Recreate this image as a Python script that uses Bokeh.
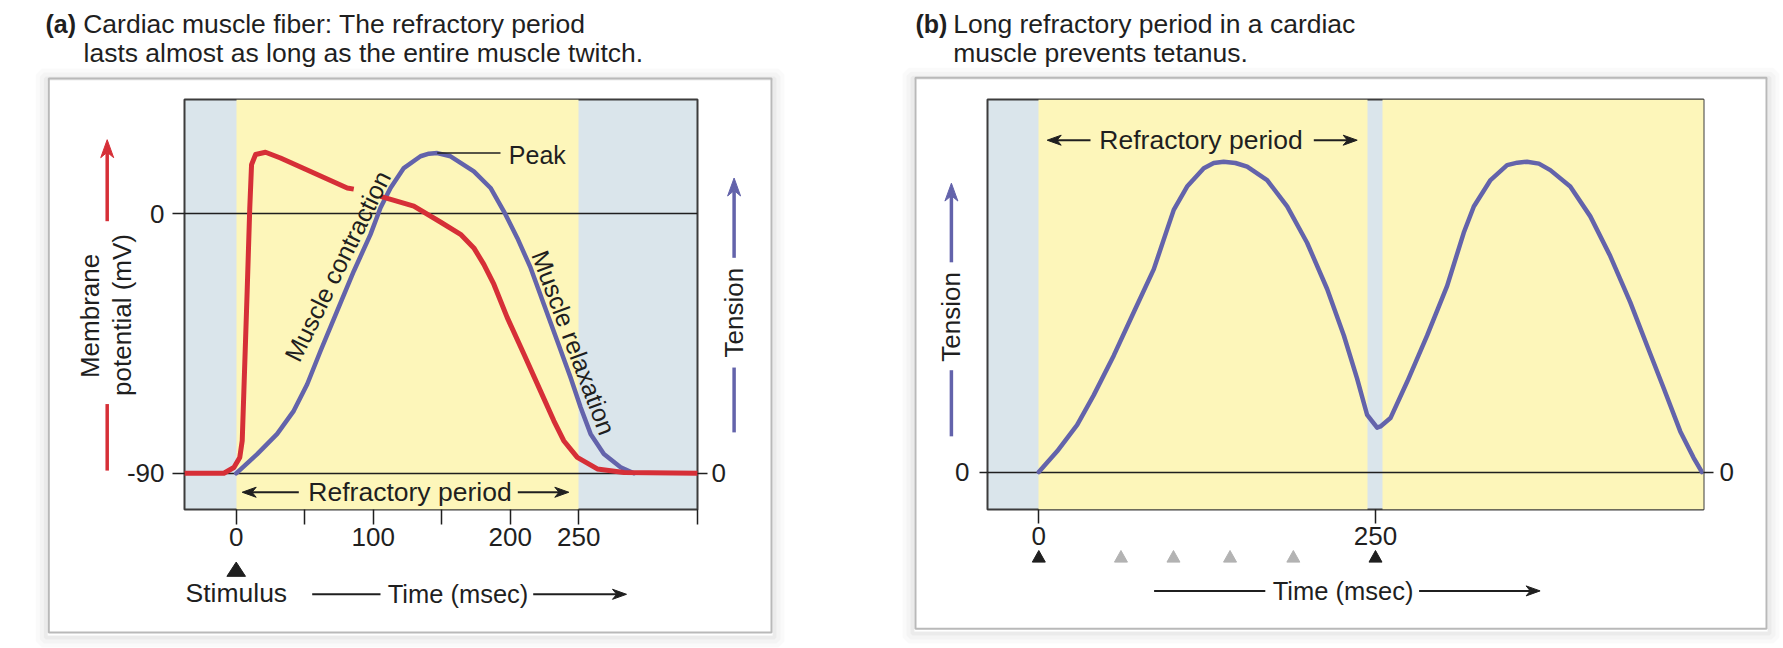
import math
from bokeh.plotting import figure
from bokeh.models import Range1d, LinearAxis, FixedTicker
from bokeh.core.properties import value
from bokeh.layouts import row
from bokeh.embed import file_html
from bokeh.resources import INLINE

GAP = float("nan")   # break in the trace where the "Muscle contraction" label crosses it

# ---------------- data ----------------
# (a) cardiac contractile fibre: action potential (mV) and twitch tension
ap_time_ms = [-38, -9, -1.7, 2.6, 4.4, 5.6, 8.0, 9.9, 11.2, 14.1, 21.4, 32.3, 56.7, 81.0, 85.8,
              GAP, 105.3, 129.6, 149.0, 163.7, 173.4, 180.7, 188.0, 197.8, 210.0, 222.0, 231.8,
              239.0, 248.9, 263.5, 283.0, 337.0]
ap_mv = [-90, -90, -88.0, -84.5, -78.7, -61.4, -26.8, 2.1, 17.1, 20.6, 21.4, 19.4, 14.2, 9.0, 8.6,
         GAP, 6.1, 2.7, -2.8, -7.1, -11.8, -17.5, -24.4, -36.0, -48.7, -61.4, -71.8, -78.7,
         -84.5, -88.5, -89.7, -90]
twitch_time_ms = [0, 15.3, 29.9, 42.0, 51.8, 61.5, 73.7, 85.8, 98.0, 105.3, 112.6, 122.3, 134.5,
                  140.6, 146.7, 156.4, 173.4, 185.6, 195.3, 205.1, 214.8, 224.5, 234.3, 244.0,
                  251.3, 258.6, 268.3, 280.5, 290.2]
twitch_tension = [0, 0.06, 0.123, 0.195, 0.278, 0.382, 0.507, 0.631, 0.746, 0.829, 0.891, 0.953,
                  0.99, 0.998, 1.0, 0.99, 0.943, 0.891, 0.818, 0.735, 0.642, 0.528, 0.413, 0.299,
                  0.206, 0.123, 0.06, 0.019, 0.0]
a_refractory = [(0, 250)]
a_time_ticks = [0, 100, 200, 250]
a_time_minor_ticks = [50, 150]
a_mv_ticks = [-90, 0]
a_stimuli = [0]
peak_time, peak_tension = 146.7, 1.0

# (b) two stimuli: the second twitch cannot fuse with the first
b_time_ms = [0, 13.6, 28.5, 40.8, 55.7, 70.5, 85.4, 95.3, 100.2, 110.1, 122.5, 129.9, 137.3,
             146.0, 154.7, 169.5, 184.4, 199.2, 214.1, 226.5, 236.3, 243.8, 251.2, 253.7, 261.1,
             273.5, 288.3, 303.2, 315.5, 323.0, 335.4, 347.7, 355.3, 362.5, 371.3, 379.8, 394.6,
             409.5, 424.3, 439.2, 451.6, 464.0, 476.3, 486.2, 492.4]
b_tension = [0, 0.067, 0.152, 0.248, 0.376, 0.515, 0.654, 0.782, 0.845, 0.92, 0.979, 0.996, 1.0,
             0.996, 0.984, 0.941, 0.856, 0.739, 0.59, 0.44, 0.302, 0.184, 0.143, 0.147, 0.174,
             0.291, 0.44, 0.6, 0.771, 0.856, 0.941, 0.989, 0.997, 1.0, 0.994, 0.973, 0.92,
             0.824, 0.696, 0.547, 0.408, 0.27, 0.131, 0.046, 0.0]
b_refractory = [(0, 244), (255, 505)]
b_time_ticks = [0, 250]
b_stimuli = [0, 250]
b_blocked_stimuli = [61, 100, 142, 189]

# ---------------- style ----------------
FONT = "Liberation Sans"
INK = "#1f1f1f"
BLUE_BG = "#dae5eb"
YELLOW = "#fdf6ba"
RED = "#d62f37"
PURPLE = "#6363ab"
GRAY = "#b3b3b3"
BOX = "#b9b9b9"
TS = 26          # general label size (px)
TITLE = 26.5     # panel title size (px)


class Mapper:
    """Converts page pixel positions into the data space of one figure (for layout items)."""

    def __init__(self, frame, xr, yr):
        self.L, self.T, self.R, self.B = frame
        (self.x0, self.x1), (self.y0, self.y1) = xr, yr

    def x(self, X):
        return self.x0 + (X - self.L) * (self.x1 - self.x0) / (self.R - self.L)

    def y(self, Y):
        return self.y1 - (Y - self.T) * (self.y1 - self.y0) / (self.B - self.T)

    def X(self, x):
        return self.L + (x - self.x0) * (self.R - self.L) / (self.x1 - self.x0)


def base_fig(width, height, origin, frame, xr, yr):
    ox, oy = origin
    L, T, R, B = frame
    p = figure(width=width, height=height, x_range=Range1d(*xr), y_range=Range1d(*yr),
               toolbar_location=None, output_backend="svg",
               x_axis_location=None, y_axis_location=None,
               min_border_left=L - ox, min_border_top=T - oy,
               min_border_right=ox + width - R, min_border_bottom=oy + height - B)
    p.grid.visible = False
    p.background_fill_color = BLUE_BG
    p.border_fill_color = "white"
    p.outline_line_color = "#3c3c3c"
    p.outline_line_width = 2
    p.title.visible = False
    return p


def style_axis(ax, tick_out, standoff):
    ax.axis_line_color = None
    ax.major_tick_in = 0
    ax.major_tick_out = tick_out
    ax.major_tick_line_color = INK
    ax.major_tick_line_width = 1.5
    ax.minor_tick_in = 0
    ax.minor_tick_out = tick_out
    ax.minor_tick_line_color = INK
    ax.minor_tick_line_width = 1.5
    ax.major_label_text_font = FONT
    ax.major_label_text_font_size = f"{TS}px"
    ax.major_label_text_color = INK
    ax.major_label_standoff = standoff


def text(p, m, X, Y, s, size=TS, align="left", baseline="middle", angle=0.0, bold=False,
         color=INK):
    p.text(x=[m.x(X)], y=[m.y(Y)], text=[s], angle=angle, text_font=value(FONT),
           text_font_size=value(f"{size}px"), text_align=align, text_baseline=baseline,
           text_color=color, text_font_style="bold" if bold else "normal", level="overlay")


def poly(p, m, pts, color):
    p.patch([m.x(a) for a, b in pts], [m.y(b) for a, b in pts], fill_color=color,
            line_color=color, line_width=1, level="overlay")


def line(p, m, X0, Y0, X1, Y1, color=INK, width=2, head=0):
    ex, ey = X1, Y1
    if head:
        d = math.hypot(X1 - X0, Y1 - Y0)
        ux, uy = (X1 - X0) / d, (Y1 - Y0) / d
        nx, ny = -uy, ux
        w = head * 0.36
        tip = (X1, Y1)
        back_l = (X1 - head * ux + w * nx, Y1 - head * uy + w * ny)
        notch = (X1 - 0.7 * head * ux, Y1 - 0.7 * head * uy)
        back_r = (X1 - head * ux - w * nx, Y1 - head * uy - w * ny)
        poly(p, m, [tip, back_l, notch, back_r], color)
        ex, ey = notch
    p.segment(x0=[m.x(X0)], y0=[m.y(Y0)], x1=[m.x(ex)], y1=[m.y(ey)], line_color=color,
              line_width=width, level="overlay")


def triangle(p, m, t, apex, base, half_px, color):
    X = m.X(t)
    poly(p, m, [(X - half_px, base), (X, apex), (X + half_px, base)], color)


def outer_box(p, m, L, T, R, B):
    # soft drop shadow made of faint strokes just outside the card
    for w, a in [(12, 0.018), (8, 0.025), (4, 0.035)]:
        e = w / 2 + 1
        p.quad(left=[m.x(L - e)], right=[m.x(R + e)], top=[m.y(T - e + 3)],
               bottom=[m.y(B + e + 2)], fill_alpha=0, line_color="black", line_alpha=a,
               line_width=w, level="overlay")
    p.quad(left=[m.x(L)], right=[m.x(R)], top=[m.y(T)], bottom=[m.y(B)], fill_alpha=0,
           line_color=BOX, line_width=2, level="overlay")


# ---------------- panel (a) ----------------
A_ORIGIN = (0, 0)
A_FRAME = (184, 98, 697, 509)
A_XR = (-37.73, 336.62)
A_YR = (-102.57, 39.70)
A_TR = (-0.1131, 1.1673)
ma = Mapper(A_FRAME, A_XR, A_YR)

pa = base_fig(880, 648, A_ORIGIN, A_FRAME, A_XR, A_YR)
pa.extra_y_ranges = {"tension": Range1d(*A_TR)}

pa.vstrip(x0=[r[0] for r in a_refractory], x1=[r[1] for r in a_refractory],
          fill_color=YELLOW, line_color=None)
pa.hspan(y=a_mv_ticks, line_color=INK, line_width=1.5)
pa.line(twitch_time_ms, twitch_tension, y_range_name="tension", line_color=PURPLE,
        line_width=4.5, line_join="round", line_cap="round")
pa.line(ap_time_ms, ap_mv, line_color=RED, line_width=5, line_join="round")
pa.segment(x0=[peak_time], y0=[peak_tension], x1=[ma.x(500)], y1=[peak_tension],
           y_range_name="tension", line_color=INK, line_width=1.5)

xa = LinearAxis(ticker=FixedTicker(ticks=a_time_ticks,
                                   minor_ticks=a_time_minor_ticks + [A_XR[1] - 0.05]))
style_axis(xa, 15, 3)
pa.add_layout(xa, "below")
ya = LinearAxis(ticker=FixedTicker(ticks=a_mv_ticks), major_label_overrides={-90: "-90", 0: "0"})
style_axis(ya, 12, 8)
pa.add_layout(ya, "left")
ta = LinearAxis(y_range_name="tension", ticker=FixedTicker(ticks=[0]))
style_axis(ta, 10, 4)
pa.add_layout(ta, "right")

outer_box(pa, ma, 48.3, 77, 771, 632.3)
text(pa, ma, 45, 22.7, "(a)", size=25, baseline="alphabetic", bold=True)
text(pa, ma, 82.7, 22.7, "Cardiac muscle fiber: The refractory period", size=TITLE,
     baseline="alphabetic")
text(pa, ma, 83, 51.7, "lasts almost as long as the entire muscle twitch.", size=TITLE,
     baseline="alphabetic")

line(pa, ma, 106.7, 220, 106.7, 138.3, color=RED, width=3.5, head=18)
line(pa, ma, 106.7, 403.3, 106.7, 470, color=RED, width=3.5)
text(pa, ma, 89, 315, "Membrane", align="center", angle=math.pi / 2)
text(pa, ma, 121, 314, "potential (mV)", align="center", angle=math.pi / 2)

line(pa, ma, 733.6, 256.7, 733.6, 176.7, color=PURPLE, width=3.5, head=18)
line(pa, ma, 733.6, 366.7, 733.6, 431.7, color=PURPLE, width=3.5)
text(pa, ma, 733.6, 311.7, "Tension", align="center", angle=math.pi / 2)

text(pa, ma, 508.3, 153.5, "Peak", size=25)
text(pa, ma, 337, 265, "Muscle contraction", size=25, align="center",
     angle=math.radians(63.8))
text(pa, ma, 573.3, 341.7, "Muscle relaxation", size=25, align="center",
     angle=math.radians(-69.3))

text(pa, ma, 409.5, 491.7, "Refractory period", size=26.5, align="center")
line(pa, ma, 298.3, 491.7, 241.7, 491.7, head=14)
line(pa, ma, 517.3, 491.7, 568.3, 491.7, head=14)

for t in a_stimuli:
    triangle(pa, ma, t, 561.7, 576, 9.3, INK)
text(pa, ma, 185, 593, "Stimulus", size=26.5)
text(pa, ma, 457.5, 594, "Time (msec)", size=25.5, align="center")
line(pa, ma, 311.7, 594, 380, 594, width=2)
line(pa, ma, 532.7, 594, 626, 594, width=2, head=14)

# ---------------- panel (b) ----------------
B_ORIGIN = (880, 0)
B_FRAME = (987, 99, 1703, 512)
B_XR = (-38.09, 493.54)
B_YR = (-0.1206, 1.2006)
mb = Mapper(B_FRAME, B_XR, B_YR)

pb = base_fig(903, 648, B_ORIGIN, B_FRAME, B_XR, B_YR)
pb.vstrip(x0=[r[0] for r in b_refractory], x1=[r[1] for r in b_refractory],
          fill_color=YELLOW, line_color=None)
pb.hspan(y=[0], line_color=INK, line_width=1.5)
pb.line(b_time_ms, b_tension, line_color=PURPLE, line_width=4.5, line_join="round",
        line_cap="round")

xb = LinearAxis(ticker=FixedTicker(ticks=b_time_ticks))
style_axis(xb, 14, 3)
pb.add_layout(xb, "below")
yb = LinearAxis(ticker=FixedTicker(ticks=[0]))
style_axis(yb, 8, 10)
pb.add_layout(yb, "left")
yb2 = LinearAxis(ticker=FixedTicker(ticks=[0]))
style_axis(yb2, 10, 6)
pb.add_layout(yb2, "right")

outer_box(pb, mb, 915, 77, 1766, 632)
text(pb, mb, 915, 22.7, "(b)", size=25, baseline="alphabetic", bold=True)
text(pb, mb, 952.7, 22.7, "Long refractory period in a cardiac", size=TITLE,
     baseline="alphabetic")
text(pb, mb, 952.7, 51.7, "muscle prevents tetanus.", size=TITLE, baseline="alphabetic")

line(pb, mb, 950.9, 263, 950.9, 183.3, color=PURPLE, width=3.5, head=18)
line(pb, mb, 950.9, 371.7, 950.9, 438.3, color=PURPLE, width=3.5)
text(pb, mb, 950.9, 318, "Tension", align="center", angle=math.pi / 2)

text(pb, mb, 1200.5, 140, "Refractory period", size=26.5, align="center")
line(pb, mb, 1090, 140, 1046.7, 140, head=14)
line(pb, mb, 1313.3, 140, 1356.7, 140, head=14)

for t in b_stimuli:
    triangle(pb, mb, t, 553.3, 565, 6.5, INK)
for t in b_blocked_stimuli:
    triangle(pb, mb, t, 553.3, 565, 6.5, GRAY)
text(pb, mb, 1342.6, 594, "Time (msec)", size=25.5, align="center")
line(pb, mb, 1153.6, 594, 1264.8, 594, width=2)
line(pb, mb, 1418.6, 594, 1539.6, 594, width=2, head=14)

layout = row(pa, pb)
open("out.html", "w").write(file_html(layout, INLINE))
